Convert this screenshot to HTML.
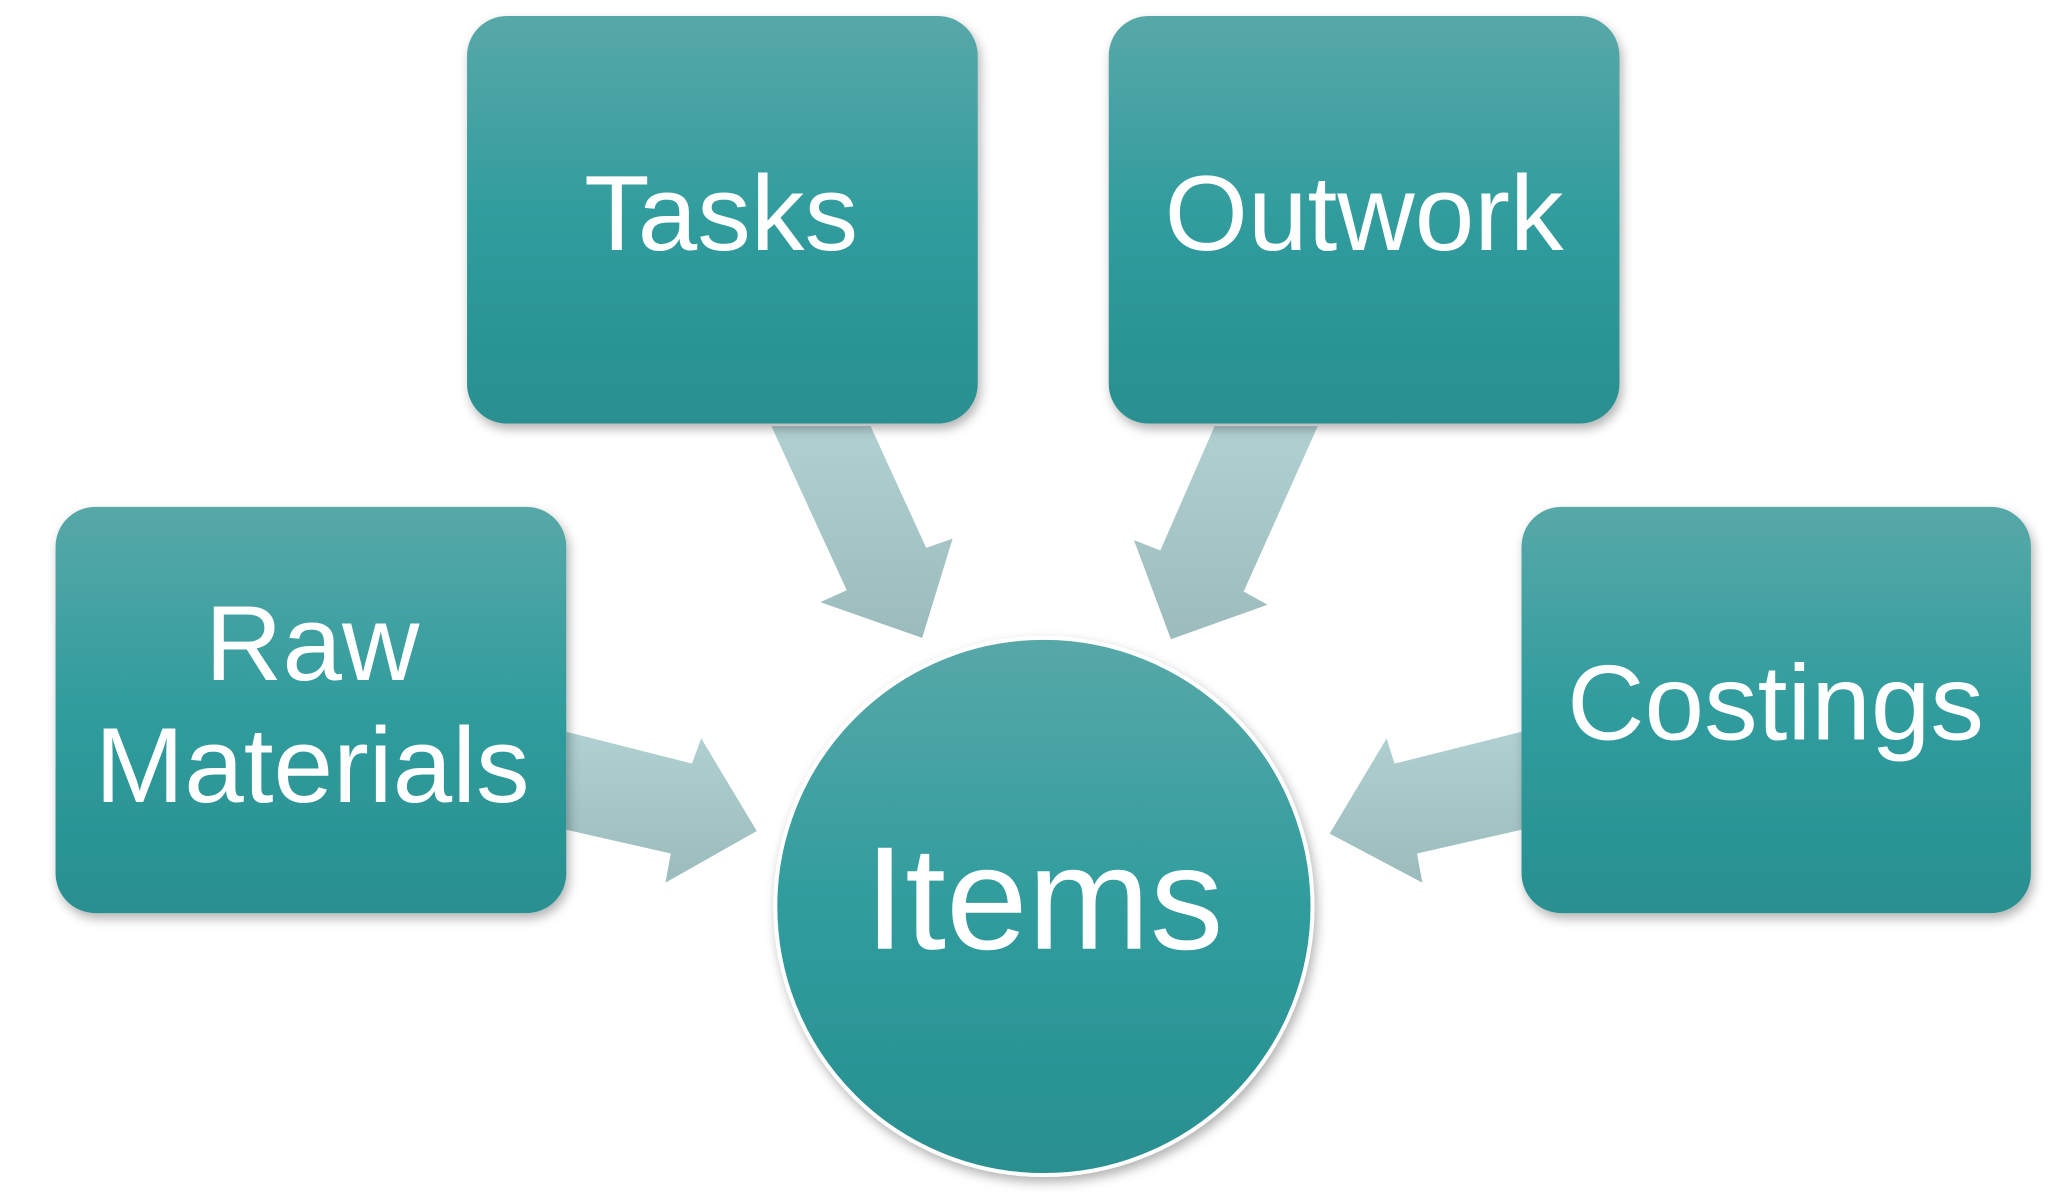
<!DOCTYPE html>
<html><head><style>html,body{margin:0;padding:0;background:#fff;}svg{display:block}</style></head>
<body>
<svg width="2064" height="1199" viewBox="0 0 1560 906" xmlns="http://www.w3.org/2000/svg">
<defs>
<linearGradient id="g" x1="0" y1="0" x2="0" y2="1"><stop offset="0" stop-color="#58a8a8"/><stop offset="0.5" stop-color="#309c9d"/><stop offset="1" stop-color="#298f90"/></linearGradient>
<linearGradient id="a" x1="0" y1="0" x2="0" y2="1"><stop offset="0" stop-color="#b0d0d1"/><stop offset="1" stop-color="#9cbbbc"/></linearGradient>
<filter id="s" x="-10%" y="-10%" width="130%" height="130%"><feDropShadow dx="2" dy="4" stdDeviation="4" flood-color="#000" flood-opacity="0.3"/></filter>
</defs>
<g fill="url(#a)">
<polygon points="583,322 658,322 700,414 720,407 697,482 620,455 640,446"/>
<polygon points="996,322 918,322 877,416 857,408 885,483 958,457 940,447"/>
<polygon points="428,553 523,577 530,558 572,628 503,667 507,645 428,627"/>
<polygon points="1150,553 1054,577 1048,558 1005,630 1075,667 1071,645 1150,627"/>
</g>
<g fill="url(#g)" filter="url(#s)">
<rect x="353" y="12" width="386" height="308" rx="30"/>
<rect x="838" y="12" width="386" height="308" rx="30"/>
<rect x="42" y="383" width="386" height="307" rx="30"/>
<rect x="1150" y="383" width="385" height="307" rx="30"/>
<circle cx="789" cy="685" r="203" stroke="#fff" stroke-width="3"/>
</g>
<g fill="#fff" font-family="Liberation Sans, sans-serif" text-anchor="middle" font-size="81">
<text x="545" y="189">Tasks</text>
<text x="1031" y="189">Outwork</text>
<text x="236" y="514">Raw</text>
<text x="236" y="606">Materials</text>
<text x="1342" y="559">Costings</text>
<text x="789" y="717" font-size="111">Items</text>
</g>
</svg>
</body></html>
